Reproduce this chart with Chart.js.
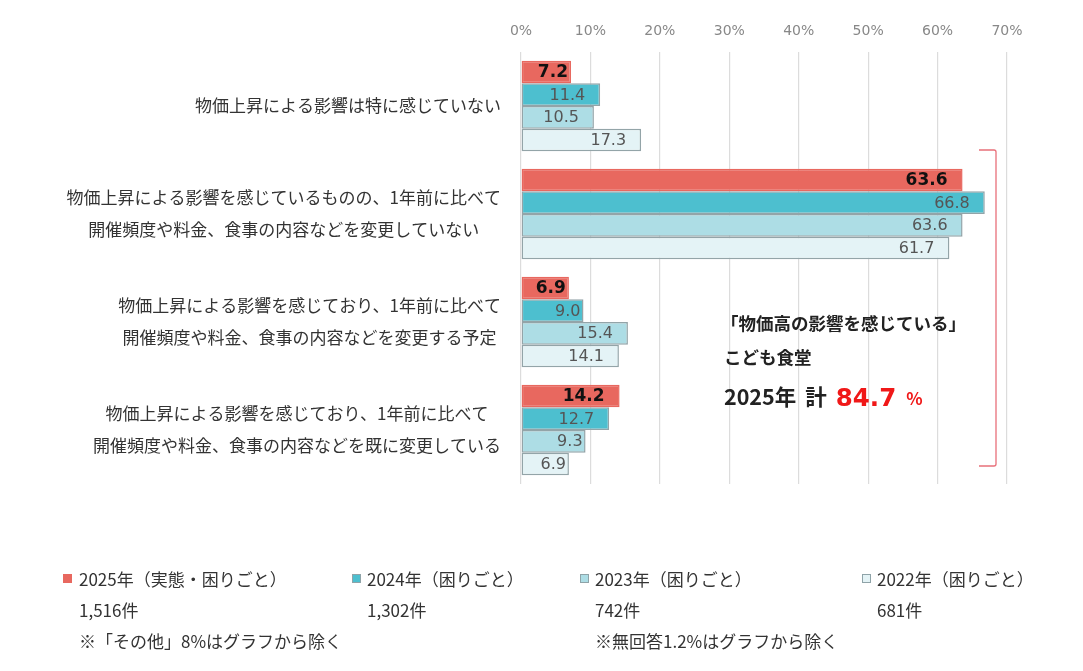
<!DOCTYPE html>
<html><head><meta charset="utf-8">
<script src="https://cdn.jsdelivr.net/npm/chart.js@4.4.1/dist/chart.umd.min.js"></script>
<style>
html,body{margin:0;padding:0;background:#fff;}
#wrap{position:relative;width:1083px;height:671px;overflow:hidden;}
#c{position:absolute;left:0;top:0;}
.t{position:absolute;font-family:"Noto Sans CJK JP",sans-serif;white-space:nowrap;line-height:1;}
.lg{font-size:17px;color:#333;}
.sq{position:absolute;width:9px;height:9px;box-sizing:border-box;}
.an{font-weight:bold;color:#222;font-size:17.5px;}
</style></head><body>
<div id="wrap">
<canvas id="c" width="1083" height="671"></canvas>

<div class="t an" style="left:721px;top:314px;">「物価高の影響を感じている」</div>
<div class="t an" style="left:724px;top:348px;">こども食堂</div>
<div class="t an" style="left:724px;top:385px;font-size:21.5px;">2025年<span style="margin-left:9px;">計</span><span style="margin-left:9px;color:#f01818;font-family:'DejaVu Sans',sans-serif;font-size:24.5px;position:relative;top:1px;">84.7</span><span style="margin-left:10px;color:#f01818;font-size:17px;">%</span></div>

<div class="sq" style="left:63px;top:574px;background:#E8685F;"></div>
<div class="t lg" style="left:79px;top:570px;">2025年（実態・困りごと）</div>
<div class="t lg" style="left:79px;top:601px;">1,516件</div>
<div class="t lg" style="left:79px;top:632px;">※「その他」8%はグラフから除く</div>

<div class="sq" style="left:352px;top:574px;background:#4DBFCF;border:1px solid #8fa3a8;"></div>
<div class="t lg" style="left:367px;top:570px;">2024年（困りごと）</div>
<div class="t lg" style="left:367px;top:601px;">1,302件</div>

<div class="sq" style="left:580px;top:574px;background:#ADDDE5;border:1px solid #8fa3a8;"></div>
<div class="t lg" style="left:595px;top:570px;">2023年（困りごと）</div>
<div class="t lg" style="left:595px;top:601px;">742件</div>
<div class="t lg" style="left:595px;top:632px;">※無回答1.2%はグラフから除く</div>

<div class="sq" style="left:862px;top:574px;background:#E4F3F6;border:1px solid #8fa3a8;"></div>
<div class="t lg" style="left:877px;top:570px;">2022年（困りごと）</div>
<div class="t lg" style="left:877px;top:601px;">681件</div>
</div>
<script>
const categories = [
  ["物価上昇による影響は特に感じていない"],
  ["物価上昇による影響を感じているものの、1年前に比べて", "開催頻度や料金、食事の内容などを変更していない"],
  ["物価上昇による影響を感じており、1年前に比べて", "開催頻度や料金、食事の内容などを変更する予定"],
  ["物価上昇による影響を感じており、1年前に比べて", "開催頻度や料金、食事の内容などを既に変更している"]
];
const seriesNames = ["2025年（実態・困りごと）", "2024年（困りごと）", "2023年（困りごと）", "2022年（困りごと）"];
const values2025 = [7.2, 63.6, 6.9, 14.2];
const values2024 = [11.4, 66.8, 9.0, 12.7];
const values2023 = [10.5, 63.6, 15.4, 9.3];
const values2022 = [17.3, 61.7, 14.1, 6.9];
const xTickValues = [0, 10, 20, 30, 40, 50, 60, 70];

const fills = ["#E8685F", "#4DBFCF", "#ADDDE5", "#E4F3F6"];
const borders = ["#E8685F", "#93A4A8", "#93A4A8", "#93A4A8"];

const barLabels = {
  id: 'barLabels',
  afterDatasetsDraw(chart) {
    const ctx = chart.ctx;
    chart.data.datasets.forEach((ds, di) => {
      const meta = chart.getDatasetMeta(di);
      meta.data.forEach((el, i) => {
        const txt = ds.data[i].toFixed(1);
        ctx.save();
        if (di === 0) {
          ctx.font = 'bold 17px "DejaVu Sans", sans-serif';
          ctx.fillStyle = '#111';
        } else {
          ctx.font = '16px "DejaVu Sans", sans-serif';
          ctx.fillStyle = '#555';
        }
        ctx.textAlign = 'right';
        ctx.textBaseline = 'middle';
        const off = txt.length >= 4 ? 15 : 3;
        ctx.fillText(txt, el.x - off, el.y + 1);
        ctx.restore();
      });
    });
  }
};

const catLabels = {
  id: 'catLabels',
  afterDraw(chart) {
    const ctx = chart.ctx;
    const ys = chart.scales.y;
    ctx.save();
    ctx.font = '17px "Noto Sans CJK JP", sans-serif';
    ctx.fillStyle = '#333';
    ctx.textAlign = 'center';
    ctx.textBaseline = 'middle';
    const right = chart.chartArea.left - 20;
    categories.forEach((lines, i) => {
      const cy = ys.getPixelForValue(i);
      const w = Math.max(...lines.map(l => ctx.measureText(l).width));
      const cx = right - w / 2;
      lines.forEach((l, j) => {
        ctx.fillText(l, cx, cy + (j - (lines.length - 1) / 2) * 32);
      });
    });
    // bracket
    const top = ys.getPixelForValue(1) - 64;
    const bot = ys.getPixelForValue(3) + 36;
    const bx = chart.chartArea.right - 11;
    ctx.strokeStyle = '#E8707A';
    ctx.lineWidth = 1.3;
    ctx.beginPath();
    ctx.moveTo(bx - 17, top);
    ctx.lineTo(bx - 2, top);
    ctx.quadraticCurveTo(bx, top, bx, top + 2);
    ctx.lineTo(bx, bot - 2);
    ctx.quadraticCurveTo(bx, bot, bx - 2, bot);
    ctx.lineTo(bx - 17, bot);
    ctx.stroke();
    ctx.restore();
  }
};

const dataSets = [values2025, values2024, values2023, values2022].map((v, k) => ({
  label: seriesNames[k],
  data: v,
  backgroundColor: fills[k],
  borderColor: borders[k],
  borderWidth: 1.5,
  borderSkipped: false,
  barPercentage: 1.0,
  categoryPercentage: 0.84
}));

new Chart(document.getElementById('c'), {
  type: 'bar',
  data: { labels: categories.map(c => c.join('')), datasets: dataSets },
  options: {
    indexAxis: 'y',
    responsive: false,
    animation: false,
    devicePixelRatio: 1,
    layout: { padding: { left: 0, right: 76, top: 0, bottom: 187 } },
    plugins: { legend: { display: false }, tooltip: { enabled: false } },
    scales: {
      x: {
        position: 'top',
        min: 0, max: 70,
        afterBuildTicks: s => { s.ticks = xTickValues.map(v => ({ value: v })); },
        afterFit: s => { s.height = 52; },
        ticks: {
          callback: v => v + '%',
          color: '#888',
          font: { family: '"DejaVu Sans", sans-serif', size: 14 },
          padding: 12,
          maxRotation: 0
        },
        grid: { color: '#dcdcdc', lineWidth: 1.2, drawTicks: false },
        border: { display: false }
      },
      y: {
        afterFit: s => { s.width = 521; },
        ticks: { display: false },
        grid: { display: false },
        border: { display: false }
      }
    }
  },
  plugins: [barLabels, catLabels]
});
</script>
</body></html>
